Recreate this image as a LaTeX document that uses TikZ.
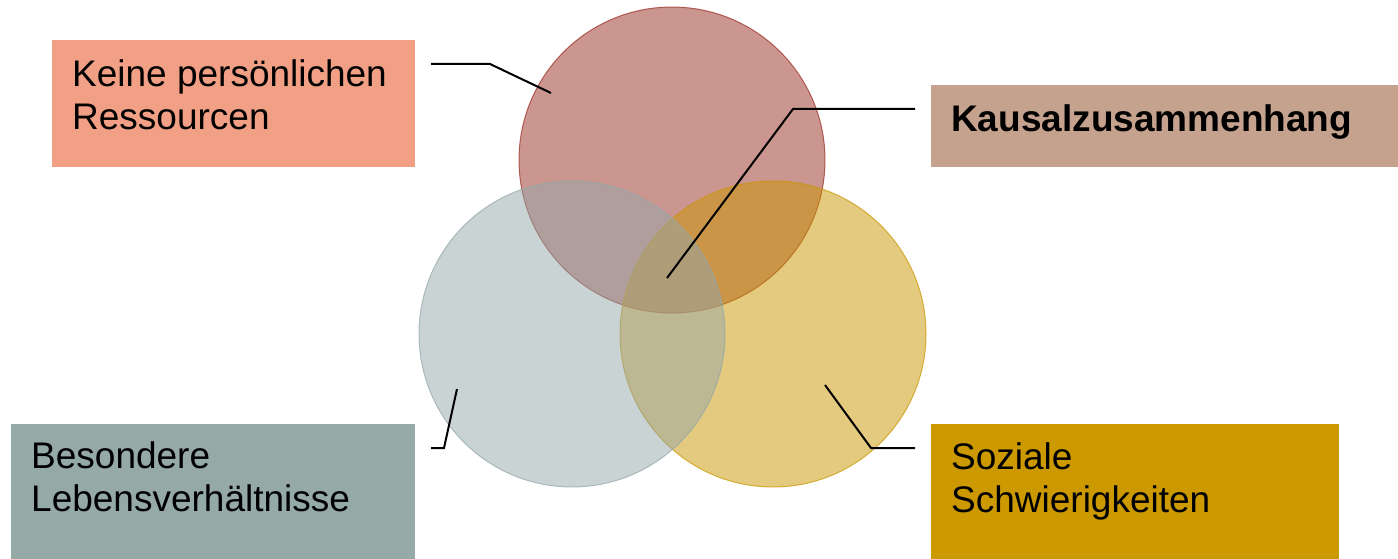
\documentclass[tikz,border=0pt]{standalone}
\usepackage{fontspec}
\setmainfont{Liberation Sans}
\definecolor{salmon}{RGB}{241,160,133}
\definecolor{taupe}{RGB}{196,162,142}
\definecolor{slate}{RGB}{149,169,167}
\definecolor{gold}{RGB}{204,153,0}
\definecolor{redc}{RGB}{153,45,33}
\definecolor{grayc}{RGB}{147,167,169}
\definecolor{yellowc}{RGB}{201,149,0}
\tikzset{
  venn/.style={circle, minimum size=306pt, inner sep=0pt, line width=1pt, fill opacity=0.5, draw opacity=0.7},
  box/.style={rectangle, anchor=north west, inner sep=0pt},
  % multi-line labels are anchored at the baseline of their last line
  lbl/.style={anchor=base west, inner sep=0pt, align=left, font=\fontsize{37}{43}\selectfont},
  leader/.style={line width=2pt, black, line join=miter},
}
\begin{document}
\begin{tikzpicture}[x=1pt, y=-1pt]
  \useasboundingbox (0,0) rectangle (1398,559);

  % overlapping circles
  \node[venn, fill=redc, draw=redc] (cred) at (672,160) {};
  \node[venn, fill=yellowc, draw=yellowc] (cyellow) at (773,334) {};
  \node[venn, fill=grayc, draw=grayc] (cgray) at (572,334) {};

  % label boxes
  \node[box, fill=salmon, minimum width=363pt, minimum height=127pt] (bres) at (52,40) {};
  \node[box, fill=taupe, minimum width=467pt, minimum height=82pt] (bkaus) at (931,85) {};
  \node[box, fill=slate, minimum width=404pt, minimum height=135pt] (bleb) at (11,424) {};
  \node[box, fill=gold, minimum width=408pt, minimum height=135pt] (bsoz) at (931,424) {};

  \node[lbl] (tres) at (72,130) {Keine persönlichen\\Ressourcen};
  \node[lbl, font=\fontsize{37}{43}\selectfont\bfseries] (tkaus) at (951,132) {Kausalzusammenhang};
  \node[lbl] (tleb) at (31,511) {Besondere\\Lebensverhältnisse};
  \node[lbl] (tsoz) at (951,512) {Soziale\\Schwierigkeiten};

  % leader lines
  \coordinate (r0) at (431,64);
  \coordinate (r1) at (490,64);
  \coordinate (r2) at (551,93);
  \coordinate (k0) at (915,109);
  \coordinate (k1) at (793,109);
  \coordinate (k2) at (667,278);
  \coordinate (l0) at (431,448);
  \coordinate (l1) at (444,448);
  \coordinate (l2) at (457,389);
  \coordinate (s0) at (915,448);
  \coordinate (s1) at (871,448);
  \coordinate (s2) at (825,385);

  \draw[leader] (r0) -- (r1) -- (r2);
  \draw[leader] (k0) -- (k1) -- (k2);
  \draw[leader] (l0) -- (l1) -- (l2);
  \draw[leader] (s0) -- (s1) -- (s2);
\end{tikzpicture}
\end{document}
